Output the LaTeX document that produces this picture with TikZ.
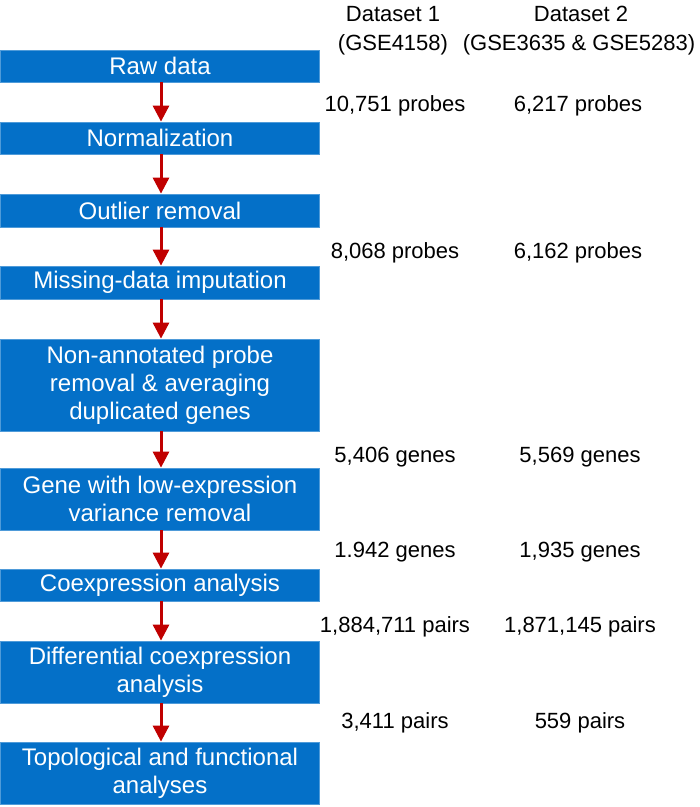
\documentclass[tikz,border=0pt]{standalone}
\usepackage{fontspec}
\setmainfont{Liberation Sans}
\usetikzlibrary{arrows.meta}
\definecolor{boxblue}{RGB}{4,112,200}
\definecolor{arrred}{RGB}{192,0,0}
\begin{document}
\begin{tikzpicture}[x=1pt,y=-1pt,
  stepbox/.style={fill=boxblue,draw=boxblue!70!white,line width=0.8pt,text=white,
    minimum width=319pt,inner sep=0pt,align=center,
    font=\fontsize{24}{28}\selectfont},
  flow/.style={draw=arrred,line width=3pt,-{Triangle[width=16pt,length=16pt]}},
  lab/.style={anchor=base,font=\fontsize{22}{26}\selectfont,inner sep=0pt}]
\useasboundingbox (0,0) rectangle (700,807);
\node[stepbox,minimum height=32pt] (b1) at (160,66) {Raw data};
\node[stepbox,minimum height=32pt] (b2) at (160,138) {Normalization};
\node[stepbox,minimum height=33pt] (b3) at (160,210.5) {Outlier removal};
\node[stepbox,minimum height=33pt] (b4) at (160,282.5) {Missing-data imputation};
\node[stepbox,minimum height=92pt] (b5) at (160,385) {Non-annotated probe\\removal \& averaging\\duplicated genes};
\node[stepbox,minimum height=62pt] (b6) at (160,499) {Gene with low-expression\\variance removal};
\node[stepbox,minimum height=32pt] (b7) at (160,585) {Coexpression analysis};
\node[stepbox,minimum height=62pt] (b8) at (160,672) {Differential coexpression\\analysis};
\node[stepbox,minimum height=62pt] (b9) at (160,773) {Topological and functional\\analyses};
\foreach \a/\b in {b1/b2,b2/b3,b3/b4,b4/b5,b5/b6,b6/b7,b7/b8,b8/b9}
  \draw[flow] ([xshift=1pt]\a.south) -- ([xshift=1pt]\b.north);
\node[lab] (h1) at (393,21) {Dataset 1};
\node[lab] (g1) at (393,50) {(GSE4158)};
\node[lab] (h2) at (581,21) {Dataset 2};
\node[lab] (g2) at (579,50) {(GSE3635 \& GSE5283)};
\node[lab] (p1a) at (395,111) {10,751 probes};
\node[lab] (p1b) at (578,111) {6,217 probes};
\node[lab] (p2a) at (395,258) {8,068 probes};
\node[lab] (p2b) at (578,258) {6,162 probes};
\node[lab] (p3a) at (395,462) {5,406 genes};
\node[lab] (p3b) at (580,462) {5,569 genes};
\node[lab] (p4a) at (395,557) {1.942 genes};
\node[lab] (p4b) at (580,557) {1,935 genes};
\node[lab] (p5a) at (395,632) {1,884,711 pairs};
\node[lab] (p5b) at (580,632) {1,871,145 pairs};
\node[lab] (p6a) at (395,728) {3,411 pairs};
\node[lab] (p6b) at (580,728) {559 pairs};
\end{tikzpicture}
\end{document}
